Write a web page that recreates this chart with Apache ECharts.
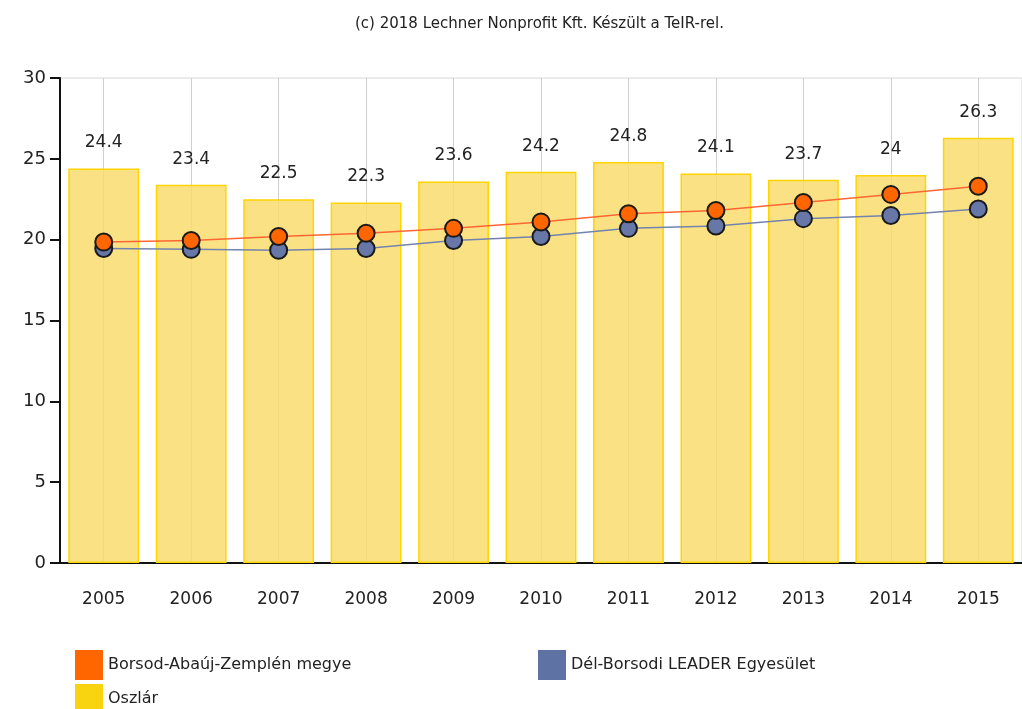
<!DOCTYPE html>
<html>
<head>
<meta charset="utf-8">
<script src="https://cdn.jsdelivr.net/npm/echarts@6/dist/echarts.min.js"></script>
<style>
  html, body { margin: 0; padding: 0; background: #fff; }
  #chart { width: 1022px; height: 709px; }
</style>
</head>
<body>
<div id="chart"></div>
<script>
// Years on the category axis
const years = ['2005', '2006', '2007', '2008', '2009', '2010', '2011', '2012', '2013', '2014', '2015'];
// Column series: Oszlár
const oszlar = [24.4, 23.4, 22.5, 22.3, 23.6, 24.2, 24.8, 24.1, 23.7, 24, 26.3];
// Line series: county and LEADER association
const megye = [19.85, 19.95, 20.2, 20.4, 20.7, 21.1, 21.6, 21.8, 22.3, 22.8, 23.3];
const leader = [19.45, 19.4, 19.35, 19.45, 19.95, 20.2, 20.7, 20.85, 21.3, 21.5, 21.9];
// Value axis ticks
const yTicks = [0, 5, 10, 15, 20, 25, 30];

const FONT = '"DejaVu Sans", Verdana, sans-serif';
const chart = echarts.init(document.getElementById('chart'));

const legendText = { fontFamily: FONT, fontSize: 16, color: '#222' };
function legendBlock(name, color, left, top) {
  return {
    data: [{ name: name, icon: 'rect', itemStyle: { color: color, borderWidth: 0 } }],
    left: left, top: top, itemWidth: 28, itemHeight: 30, itemGap: 0,
    textStyle: legendText
  };
}

chart.setOption({
  animation: false,
  textStyle: { fontFamily: FONT },
  title: {
    text: '(c) 2018 Lechner Nonprofit Kft. Készült a TeIR-rel.',
    left: 350,
    top: 12,
    textStyle: { fontFamily: FONT, fontSize: 15, fontWeight: 'normal', color: '#222' }
  },
  grid: {
    left: 60, top: 78, width: 968, height: 485,
    show: true, borderColor: '#d6d6d6', borderWidth: 1, backgroundColor: 'transparent'
  },
  legend: [
    legendBlock('Borsod-Abaúj-Zemplén megye', '#FF6600', 70, 645),
    legendBlock('Dél-Borsodi LEADER Egyesület', '#5F72A4', 533, 645),
    legendBlock('Oszlár', '#F8D410', 70, 679)
  ],
  xAxis: {
    type: 'category',
    data: years,
    axisLine: { lineStyle: { color: '#111', width: 2 } },
    axisTick: { alignWithLabel: true, length: 8, lineStyle: { color: '#111', width: 2 } },
    axisLabel: { margin: 28, fontSize: 17, color: '#222', fontFamily: FONT },
    splitLine: { show: true, alignWithLabel: true, lineStyle: { color: '#d0d0d0', width: 1 } }
  },
  yAxis: {
    type: 'value',
    min: yTicks[0],
    max: yTicks[yTicks.length - 1],
    interval: 5,
    axisLine: { show: true, lineStyle: { color: '#111', width: 2 } },
    axisTick: { show: true, length: 10, lineStyle: { color: '#111', width: 2 } },
    axisLabel: { margin: 14, fontSize: 18, color: '#222', fontFamily: FONT },
    splitLine: { show: false }
  },
  series: [
    {
      name: 'Oszlár',
      type: 'bar',
      data: oszlar,
      barCategoryGap: '19%',
      itemStyle: { color: 'rgba(249, 220, 105, 0.82)', borderColor: '#FFD400', borderWidth: 1.5 },
      label: {
        show: true, position: 'top', distance: 17,
        fontSize: 17, color: '#222', fontFamily: FONT
      },
      z: 1
    },
    {
      name: 'Borsod-Abaúj-Zemplén megye',
      type: 'line',
      data: megye,
      symbol: 'circle',
      symbolSize: 17,
      color: '#FF6600',
      lineStyle: { color: '#FF6633', width: 1.5 },
      itemStyle: { color: '#FF6600', borderColor: '#1a1a1a', borderWidth: 2 },
      z: 3
    },
    {
      name: 'Dél-Borsodi LEADER Egyesület',
      type: 'line',
      data: leader,
      symbol: 'circle',
      symbolSize: 17,
      color: '#6677A8',
      lineStyle: { color: '#7383AE', width: 1.5 },
      itemStyle: { color: '#6677A8', borderColor: '#1a1a1a', borderWidth: 2 },
      z: 2
    }
  ]
});
</script>
</body>
</html>
